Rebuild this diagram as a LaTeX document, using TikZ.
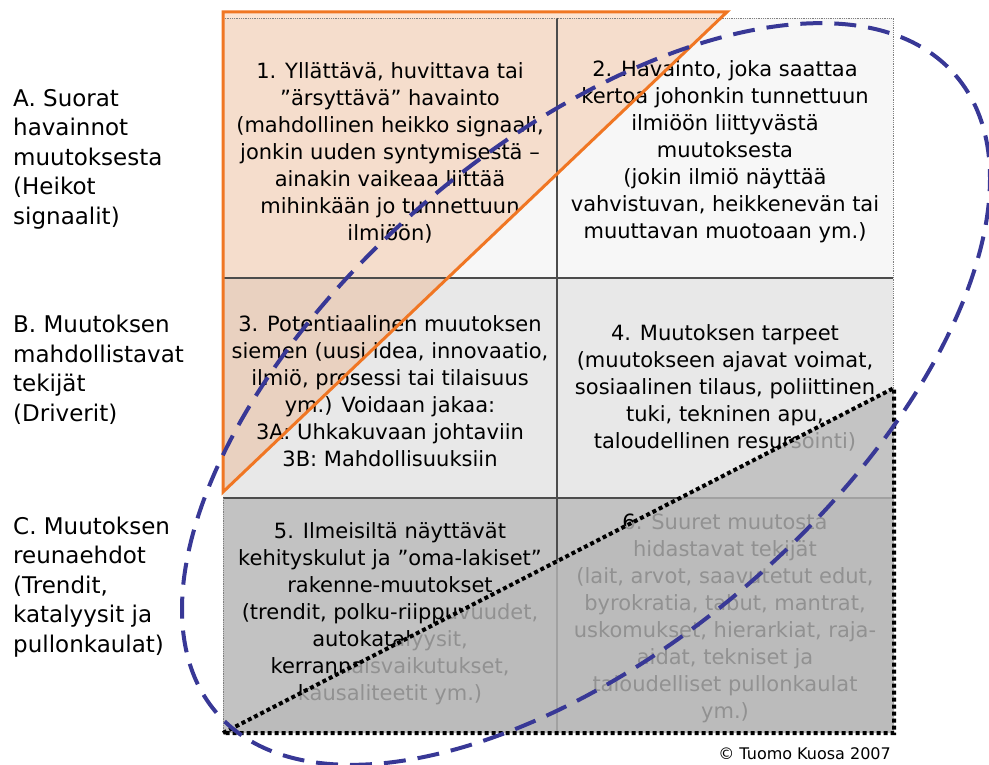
\documentclass[tikz,border=0pt]{standalone}
\usepackage{fontspec}
\setmainfont{DejaVu Sans}
\definecolor{rowA}{gray}{0.97}
\definecolor{rowB}{gray}{0.91}
\definecolor{rowC}{gray}{0.76}
\definecolor{shadegray}{gray}{0.73}
\definecolor{signalorange}{RGB}{240,118,35}
\definecolor{loopblue}{RGB}{56,56,150}
\tikzset{
  cell/.style={align=center, inner sep=0pt, font=\fontsize{21}{27}\selectfont},
  side/.style={align=left, anchor=west, inner sep=0pt, font=\fontsize{23}{29.5}\selectfont},
}
\begin{document}
\begin{tikzpicture}[x=1pt,y=-1pt]
        \useasboundingbox (0,0) rectangle (989,765);
        % Felder
        \fill[rowA] (223,18) rectangle (893,278);
        \fill[rowB] (223,278) rectangle (893,498);
        \fill[rowC] (223,498) rectangle (893,733);
        % Heikot signaalit
        \fill[signalorange, fill opacity=0.2] (223,12) -- (727,12) -- (223,492) -- cycle;
        % Gitter
        \draw[gray!60!black, line width=1.2pt]
        (557,18) -- (557,733)
        (223,278) -- (893,278)
        (223,498) -- (893,498);
        \draw[gray, densely dotted, line width=0.8pt]
        (223,18) -- (893,18) -- (893,733)
        (223,498) -- (223,733);
        % Texte
        \node[cell] (c1) at (390,153) {1. Yllättävä, huvittava tai\\”ärsyttävä” havainto\\(mahdollinen heikko signaali,\\jonkin uuden syntymisestä –\\ainakin vaikeaa liittää\\mihinkään jo tunnettuun\\ilmiöön)};
        \node[cell] (c2) at (725,152) {2. Havainto, joka saattaa\\kertoa johonkin tunnettuun\\ilmiöön liittyvästä\\muutoksesta\\(jokin ilmiö näyttää\\vahvistuvan, heikkenevän tai\\muuttavan muotoaan ym.)};
        \node[cell] (c3) at (390,391) {3. Potentiaalinen muutoksen\\siemen (uusi idea, innovaatio,\\ilmiö, prosessi tai tilaisuus\\ym.) Voidaan jakaa:\\3A: Uhkakuvaan johtaviin\\3B: Mahdollisuuksiin};
        \node[cell] (c4) at (725,388) {4. Muutoksen tarpeet\\(muutokseen ajavat voimat,\\sosiaalinen tilaus, poliittinen\\tuki, tekninen apu,\\taloudellinen resursointi)};
        \node[cell] (c5) at (390,614) {5. Ilmeisiltä näyttävät\\kehityskulut ja ”oma-lakiset”\\rakenne-muutokset\\(trendit, polku-riippuvuudet,\\autokatalyysit,\\kerrannaisvaikutukset,\\kausaliteetit ym.)};
        \node[cell] (c6) at (725,618) {6. Suuret muutosta\\hidastavat tekijät\\(lait, arvot, saavutetut edut,\\byrokratia, tabut, mantrat,\\uskomukset, hierarkiat, raja-\\aidat, tekniset ja\\taloudelliset pullonkaulat\\ym.)};
        % Pullonkaulat
        \fill[shadegray, fill opacity=0.78] (223,733) -- (894,388) -- (894,733) -- cycle;
        \draw[line width=4pt, dash pattern=on 4pt off 3pt]
        (223,733) -- (894,388) -- (894,733) -- cycle;
        \draw[signalorange, line width=3pt] (223,12) -- (727,12) -- (223,492) -- cycle;
        % Ellipse
        \draw[loopblue, line width=4pt, dash pattern=on 22pt off 12pt,
        rotate around={40.8:(586,394)}]
        (586,394) ellipse [x radius=488, y radius=250];
        % Zeilen
        \node[side] (lA) at (13,159) {A. Suorat\\havainnot\\muutoksesta\\(Heikot\\signaalit)};
        \node[side] (lB) at (13,370) {B. Muutoksen\\mahdollistavat\\tekijät\\(Driverit)};
        \node[side] (lC) at (13,587) {C. Muutoksen\\reunaehdot\\(Trendit,\\katalyysit ja\\pullonkaulat)};
        \node[anchor=east, inner sep=0pt, font=\fontsize{16}{19}\selectfont] (copy) at (891,754) {© Tuomo Kuosa 2007};
    \end{tikzpicture}
\end{document}
